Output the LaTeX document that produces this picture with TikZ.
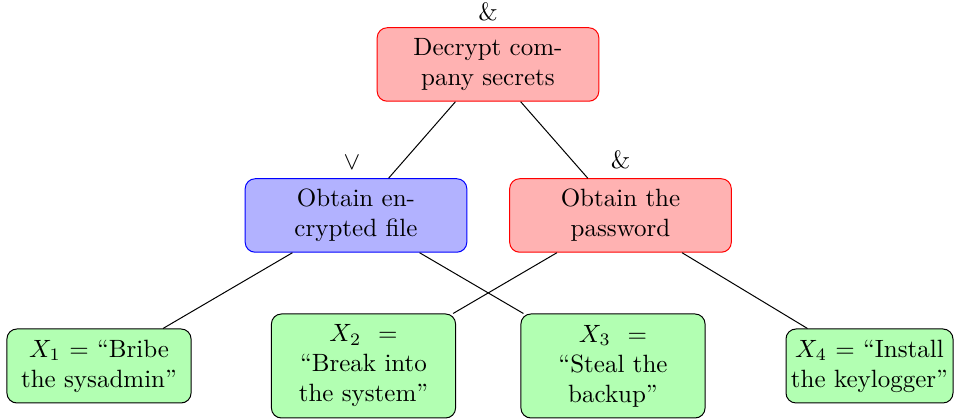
\documentclass[tikz,border=0pt]{standalone}
\usepackage{amsmath}
\usepackage{amssymb}

\begin{document}
\begin{tikzpicture}[
    x=1pt, y=1pt,
    goal/.style={rounded corners, align=center, inner sep=3.33pt},
    andgoal/.style={goal, fill=red!30, draw=red, text width=82pt, minimum height=29.4pt},
    orgoal/.style={goal, fill=blue!30, draw=blue, text width=82pt, minimum height=29.4pt},
    leaf/.style={goal, fill=green!30, draw=black, text width=67pt, minimum height=29.6pt}
  ]
  \useasboundingbox (0,0) rectangle (384,-167.6);

  % goals
  \node[andgoal, label={[yshift=-1pt]above:\&}] (secrets) at (195.2,-25.8) {Decrypt com-\\pany secrets};
  \node[orgoal, label={[xshift=-1.6pt]above:$\vee$}] (file) at (142.4,-86.2) {Obtain en-\\crypted file};
  \node[andgoal, label={above:\&}] (password) at (248.2,-86.2) {Obtain the\\password};

  % leaves
  \node[leaf] (bribe) at (39.6,-146.4) {$X_1$ = ``Bribe\\the sysadmin''};
  \node[leaf, minimum height=41.6pt] (break) at (145.4,-146.4) {$X_2$ \ =\\``Break into\\the system''};
  \node[leaf, minimum height=41.6pt] (steal) at (245.2,-146.4) {$X_3$ \ =\\``Steal the\\backup''};
  \node[leaf, text width=64pt, inner xsep=1.4pt] (keylog) at (347.8,-146.4) {$X_4$ = ``Install\\\mbox{the keylogger''}};

  \draw (secrets) -- (file);
  \draw (secrets) -- (password);
  \draw (file) -- (bribe);
  \draw (file) -- (steal);
  \draw (password) -- (break);
  \draw (password) -- (keylog);
\end{tikzpicture}
\end{document}
